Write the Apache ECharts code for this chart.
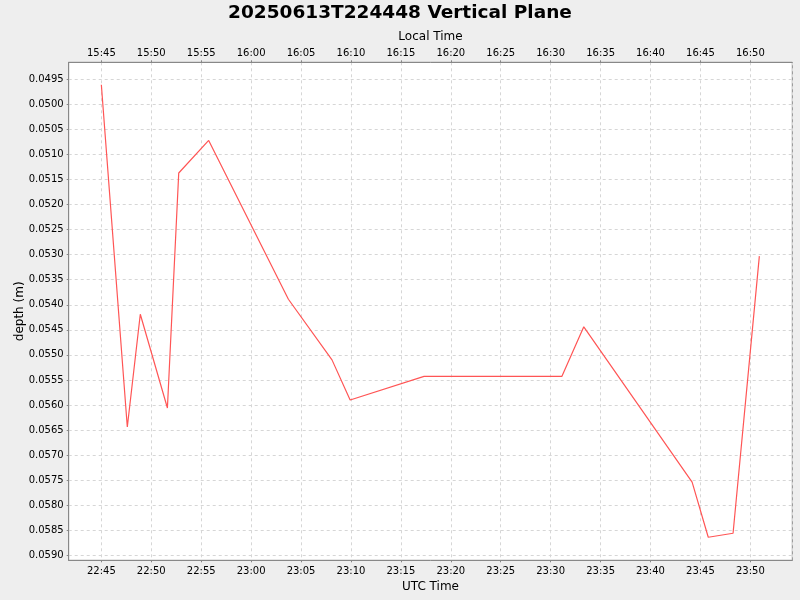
<!DOCTYPE html>
<html>
<head>
<meta charset="utf-8">
<script src="https://cdn.jsdelivr.net/npm/echarts@6/dist/echarts.min.js"></script>
<style>html,body{margin:0;padding:0;background:#eeeeee}#c{width:800px;height:600px}</style>
</head>
<body>
<div id="c"></div>
<script>
const titleText = '20250613T224448 Vertical Plane';
const utcTimes = ['22:45:00','22:47:36','22:48:54','22:51:37','22:52:45','22:55:45','23:03:44','23:08:06','23:09:55','23:17:19','23:31:07','23:33:19','23:44:10','23:45:47','23:48:16','23:50:54'];
const depths = [0.04961,0.05644,0.05419,0.05606,0.05137,0.05072,0.05389,0.05510,0.05590,0.05543,0.05543,0.05444,0.05754,0.05864,0.05856,0.05303];
const localOffsetMin = -420;
const xRange = [1361.73, 1434.2];
const yRange = [0.049161, 0.0591];

function toMin(s){const p=s.split(':').map(Number);return p[0]*60+p[1]+p[2]/60;}
function fmt(m){m=Math.round(m);m=((m%1440)+1440)%1440;const h=Math.floor(m/60),mm=m%60;return String(h).padStart(2,'0')+':'+String(mm).padStart(2,'0');}
const data = utcTimes.map((t,i)=>[toMin(t),depths[i]]);
const font = 'DejaVu Sans';
const chart = echarts.init(document.getElementById('c'));
const splitLine = {show:true,lineStyle:{color:'#d6d6d6',width:1,type:[3,3]}};
const axisLine = {show:true,lineStyle:{color:'#888888',width:1}};
const axisTick = {show:true,length:2,inside:false,lineStyle:{color:'#888888'}};
chart.setOption({
  backgroundColor:'#eeeeee',
  animation:false,
  title:{text:titleText,left:'center',top:-1,textStyle:{fontFamily:font,fontSize:18.5,fontWeight:'bold',color:'#000'}},
  grid:{left:68.7,right:7.7,top:62.3,bottom:39.7,containLabel:false,outerBoundsMode:'none',show:true,backgroundColor:'#ffffff',borderColor:'#888888',borderWidth:1},
  xAxis:[
    {type:'value',position:'bottom',min:xRange[0],max:xRange[1],splitNumber:15,
     name:'UTC Time',nameLocation:'middle',nameGap:21,nameMoveOverlap:false,nameTextStyle:{fontFamily:font,fontSize:12,color:'#000'},
     axisLine:axisLine,axisTick:axisTick,splitLine:splitLine,
     axisLabel:{fontFamily:font,fontSize:10,color:'#000',margin:6,showMinLabel:false,showMaxLabel:false,formatter:v=>fmt(v)}},
    {type:'value',position:'top',min:xRange[0],max:xRange[1],splitNumber:15,
     name:'Local Time',nameLocation:'middle',nameGap:19.5,nameMoveOverlap:false,nameTextStyle:{fontFamily:font,fontSize:12,color:'#000'},
     axisLine:axisLine,axisTick:axisTick,splitLine:{show:false},
     axisLabel:{fontFamily:font,fontSize:10,color:'#000',margin:4,showMinLabel:false,showMaxLabel:false,formatter:v=>fmt(v+localOffsetMin)}}
  ],
  yAxis:{type:'value',inverse:true,min:yRange[0],max:yRange[1],splitNumber:20,
    name:'depth (m)',nameLocation:'middle',nameGap:43,nameMoveOverlap:false,nameTextStyle:{fontFamily:font,fontSize:12,color:'#000'},
    axisLine:axisLine,axisTick:axisTick,splitLine:splitLine,
    axisLabel:{fontFamily:font,fontSize:10,color:'#000',margin:5,showMinLabel:false,showMaxLabel:false,formatter:v=>v.toFixed(4)}},
  series:[{type:'line',xAxisIndex:0,data:data,showSymbol:false,symbol:'none',
    lineStyle:{color:'#ff5555',width:1.2}}]
});
</script>
</body>
</html>
